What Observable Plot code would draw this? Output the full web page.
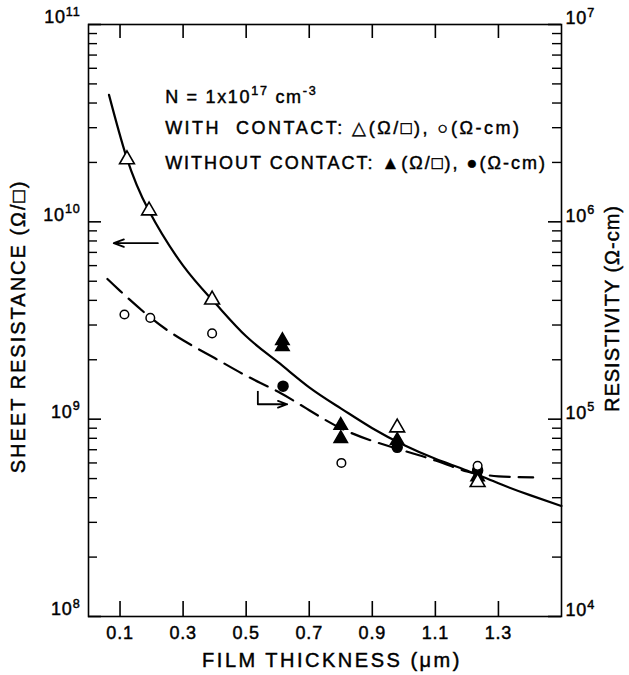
<!DOCTYPE html>
<html><head><meta charset="utf-8">
<script src="https://cdn.jsdelivr.net/npm/d3@7"></script>
<script src="https://cdn.jsdelivr.net/npm/@observablehq/plot@0.6"></script>
<style>
body{margin:0;background:#fff}
svg{display:block}
#chart svg text{stroke:#000;stroke-width:0.45px}
</style>
</head><body><div id="chart"></div>
<script>
// ---- tick definitions ----
const thicknessTicks = [0.1, 0.3, 0.5, 0.7, 0.9, 1.1, 1.3];
const thicknessLabels = ["0.1", "0.3", "0.5", "0.7", "0.9", "1.1", "1.3"];
const sheetMajor = [1e8, 1e9, 1e10, 1e11];
const sheetLabels = ["10^{8}", "10^{9}", "10^{10}", "10^{11}"];
const rhoLabels = ["10^{4}", "10^{5}", "10^{6}", "10^{7}"];
const rhoFactor = 1e4; // right axis (Ω-cm) = left axis (Ω/□) / 1e4

// ---- measured points ----
// with contact, sheet resistance (open triangles)
const wcSheetT = [0.122, 0.192, 0.392, 0.979, 1.234];
const wcSheetR = [2.07e10, 1.14e10, 4.03e9, 9.06e8, 4.79e8];
// with contact, resistivity (open circles, Ω-cm)
const wcRhoT = [0.114, 0.196, 0.392, 0.802, 1.234];
const wcRho = [3.39e5, 3.26e5, 2.72e5, 6.0e4, 5.8e4];
// without contact, sheet resistance (filled triangles)
const ncSheetT = [0.615, 0.615, 0.800, 0.800, 0.979, 1.234];
const ncSheetR = [2.5e9, 2.33e9, 9.3e8, 7.98e8, 7.8e8, 5.1e8];
// without contact, resistivity (filled circles, Ω-cm)
const ncRhoT = [0.617, 0.979, 1.234];
const ncRho = [1.47e5, 7.2e4, 5.5e4];

// ---- fitted curves ----
const sheetCurveT = [0.065, 0.12, 0.19, 0.3, 0.4, 0.5, 0.6, 0.7, 0.8, 0.9, 1.0, 1.1, 1.2, 1.3, 1.4, 1.5];
const sheetCurveR = [4.4e10, 2.14e10, 1.15e10, 6.0e9, 3.9e9, 2.63e9, 1.95e9, 1.45e9, 1.135e9, 9.0e8, 7.4e8, 6.3e8, 5.5e8, 4.73e8, 4.12e8, 3.63e8];
const rhoCurveT = [0.06, 0.1, 0.2, 0.3, 0.4, 0.5, 0.6, 0.7, 0.8, 0.9, 1.0, 1.1, 1.2, 1.25, 1.3, 1.41];
const rhoCurve = [5.13e5, 4.47e5, 3.24e5, 2.51e5, 2.04e5, 1.66e5, 1.38e5, 1.11e5, 9.0e4, 7.76e4, 6.92e4, 6.17e4, 5.43e4, 5.25e4, 5.13e4, 5.07e4];

// ---- annotations ----
const notes = [
  {x: 0.243, y: 4.3e10, text: "N = 1x10^{17} cm^{-3}"},
  {x: 0.243, y: 2.97e10, text: "WITH  CONTACT: △(Ω/□), ○(Ω-cm)"},
  {x: 0.243, y: 1.97e10, text: "WITHOUT CONTACT: ▲(Ω/□), ●(Ω-cm)"}
];
const noteSpacing = [1.7, 2.5, 2.0];
const leftArrow = [{x1: 0.22, x2: 0.08, y: 7.8e9}];
const rightArrowStem = [{x: 0.537, y1: 1.39e9, y2: 1.19e9}];
const rightArrow = [{x1: 0.537, x2: 0.63, y: 1.19e9}];

const zip = (xs, ys) => xs.map((x, i) => ({x, y: ys[i]}));
const sheetMinor = d3.scaleLog().domain([1e8, 1e11]).ticks().filter(d => !sheetMajor.includes(d));

const W = 629, H = 675, mL = 88, mR = 68, mT = 24, mB = 59;
const pw = W - mL - mR, ph = H - mT - mB;

const chart = Plot.plot({
  width: W, height: H,
  marginLeft: mL, marginRight: mR, marginTop: mT, marginBottom: mB,
  x: {domain: [0, 1.5]},
  y: {type: "log", domain: [1e8, 1e11]},
  style: {fontFamily: "'Liberation Sans', Arial, sans-serif", fontSize: "16px", color: "black", background: "white"},
  marks: [
    Plot.frame({stroke: "black", strokeWidth: 1.6}),
    // inward ticks
    Plot.ruleY(sheetMinor, {insetRight: pw - 9, strokeWidth: 1.4}),
    Plot.ruleY(sheetMajor, {insetRight: pw - 13, strokeWidth: 1.6}),
    Plot.ruleY(sheetMinor, {insetLeft: pw - 9, strokeWidth: 1.4}),
    Plot.ruleY(sheetMajor, {insetLeft: pw - 13, strokeWidth: 1.6}),
    Plot.ruleX(thicknessTicks, {insetTop: ph - 15, strokeWidth: 1.6}),
    Plot.ruleX(thicknessTicks, {insetBottom: ph - 14, strokeWidth: 1.6}),
    // tick labels
    Plot.axisX({ticks: thicknessTicks, tickSize: 0, tickPadding: 10, fontSize: 18, label: null,
      tickFormat: d => thicknessLabels[thicknessTicks.indexOf(d)]}),
    Plot.axisY({ticks: sheetMajor, tickSize: 0, tickPadding: 8, dy: -7, fontSize: 18, label: null,
      tickFormat: d => sheetLabels[sheetMajor.indexOf(d)]}),
    Plot.axisY({anchor: "right", ticks: sheetMajor, tickSize: 0, tickPadding: 4, dy: -6, fontSize: 18, label: null,
      tickFormat: d => rhoLabels[sheetMajor.indexOf(d)]}),
    // axis titles
    Plot.text(["SHEET RESISTANCE (Ω/□)"], {frameAnchor: "left", textAnchor: "middle", dx: -70, dy: 6, rotate: -90, fontSize: 20}),
    Plot.text(["RESISTIVITY (Ω-cm)"], {frameAnchor: "right", textAnchor: "middle", dx: 51, dy: -12, rotate: -90, fontSize: 20}),
    Plot.text(["FILM THICKNESS (μm)"], {frameAnchor: "bottom", dx: 7, dy: 50, fontSize: 20}),
    // curves
    Plot.line(zip(sheetCurveT, sheetCurveR), {x: "x", y: "y", curve: "natural", stroke: "black", strokeWidth: 2.2}),
    Plot.line(zip(rhoCurveT, rhoCurve), {x: "x", y: d => d.y * rhoFactor, curve: "natural", stroke: "black", strokeWidth: 2.2, strokeDasharray: "20,9"}),
    // points
    Plot.dot(zip(ncSheetT, ncSheetR), {x: "x", y: "y", symbol: "triangle", r: 5, fill: "black", stroke: "black"}),
    Plot.dot(zip(ncRhoT, ncRho), {x: "x", y: d => d.y * rhoFactor, symbol: "circle", r: 5, fill: "black", stroke: "black"}),
    Plot.dot(zip(wcSheetT, wcSheetR), {x: "x", y: "y", symbol: "triangle", r: 5.5, fill: "white", stroke: "black", strokeWidth: 1.6}),
    Plot.dot(zip(wcRhoT, wcRho), {x: "x", y: d => d.y * rhoFactor, symbol: "circle", r: 4.3, fill: "white", stroke: "black", strokeWidth: 1.5}),
    // arrows
    Plot.arrow(leftArrow, {x1: "x1", x2: "x2", y1: "y", y2: "y", stroke: "black", strokeWidth: 1.8, headLength: 9, headAngle: 40}),
    Plot.link(rightArrowStem, {x1: "x", x2: "x", y1: "y1", y2: "y2", stroke: "black", strokeWidth: 1.8}),
    Plot.arrow(rightArrow, {x1: "x1", x2: "x2", y1: "y", y2: "y", stroke: "black", strokeWidth: 1.8, headLength: 9, headAngle: 40}),
    // annotation text
    Plot.text(notes, {x: "x", y: "y", text: "text", textAnchor: "start", fontSize: 18})
  ]
});
document.getElementById("chart").appendChild(chart);

// letter spacing for the hand-lettered look
const spacing = new Map([
  ["SHEET RESISTANCE (Ω/□)", 2], ["RESISTIVITY (Ω-cm)", 1], ["FILM THICKNESS (μm)", 2.5]
]);
chart.querySelectorAll("text").forEach(t => {
  const s = t.textContent;
  const ni = notes.findIndex(n => n.text === s);
  if (spacing.has(s)) t.setAttribute("letter-spacing", spacing.get(s));
  else if (ni >= 0) t.setAttribute("letter-spacing", noteSpacing[ni]);
  else t.setAttribute("letter-spacing", 0.8);
  // superscripts written as ^{...}
  if (s.includes("^{")) {
    const fs = parseFloat(getComputedStyle(t).fontSize) || 18;
    const shift = fs * 0.42;
    const parts = s.split(/(\^\{[^}]*\})/).filter(p => p.length);
    while (t.firstChild) t.removeChild(t.firstChild);
    let raised = false;
    parts.forEach(p => {
      const ts = document.createElementNS("http://www.w3.org/2000/svg", "tspan");
      if (p.startsWith("^{")) {
        ts.textContent = p.slice(2, -1);
        ts.setAttribute("font-size", (fs * 0.7) + "px");
        ts.setAttribute("dy", (-shift) + "px");
        raised = true;
      } else {
        ts.textContent = p;
        if (raised) { ts.setAttribute("dy", shift + "px"); raised = false; }
      }
      t.appendChild(ts);
    });
  }
});
</script>
</body></html>
